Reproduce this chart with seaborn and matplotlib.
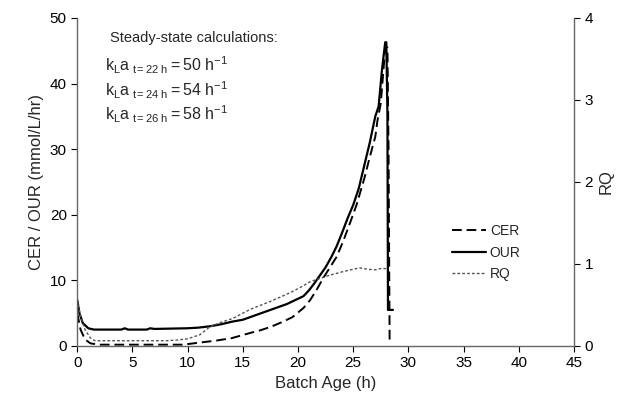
import matplotlib
matplotlib.use("Agg")
import matplotlib.pyplot as plt
import numpy as np
import pandas as pd
import seaborn as sns

# OUR (solid), mmol/L/hr
our_t = [0, 0.2, 0.5, 1.0, 1.5, 2, 4, 4.3, 4.6, 6.3, 6.6, 7, 10, 11, 12, 13, 14, 15, 16, 17,
         18, 19, 20, 20.5, 21, 21.5, 22, 22.5, 23, 23.5, 24, 24.5, 25, 25.5, 26, 26.5, 27,
         27.3, 27.6, 27.9, 28.0, 28.1, 28.15, 28.6]
our_v = [7.0, 5.0, 3.5, 2.7, 2.5, 2.5, 2.5, 2.7, 2.5, 2.5, 2.7, 2.6, 2.7, 2.8, 3.0, 3.3, 3.7,
         4.0, 4.6, 5.2, 5.8, 6.4, 7.2, 7.6, 8.5, 9.6, 10.8, 12.0, 13.5, 15.2, 17.3, 19.5, 21.5,
         24.0, 27.5, 31.0, 35.0, 36.5, 42.0, 46.3, 46.3, 35.2, 5.5, 5.5]

# CER (dashed), mmol/L/hr
cer_t = [0, 0.3, 0.7, 1.2, 2, 5, 9.6, 11, 12.5, 14, 15.7, 16.6, 17.5, 18.5, 19.5, 20.5, 21.1,
         21.7, 22.3, 22.9, 23.5, 24.1, 24.7, 25.3, 26.0, 26.5, 27.0, 27.2, 27.5, 27.9, 28.1,
         28.2, 28.3]
cer_v = [5.0, 2.5, 1.0, 0.4, 0.2, 0.2, 0.2, 0.5, 0.8, 1.2, 2.0, 2.4, 2.9, 3.6, 4.4, 5.8, 7.0,
         8.6, 10.4, 12.0, 13.6, 16.0, 18.7, 21.5, 25.5, 28.8, 31.9, 34.4, 37.0, 45.5, 45.5,
         30.0, 0.3]

# RQ (dotted), right axis
rq_t = [0, 0.3, 0.7, 1.2, 1.6, 3, 8.1, 9, 10, 11.1, 12, 13, 14.1, 15, 15.7, 16.6, 17.5, 18.6,
        19.5, 20.5, 21.1, 22, 22.9, 24, 25, 25.6, 26.3, 27.0, 27.5, 28.0]
rq_v = [0.56, 0.36, 0.20, 0.096, 0.064, 0.064, 0.064, 0.072, 0.088, 0.136, 0.232, 0.288, 0.336,
        0.40, 0.448, 0.496, 0.544, 0.608, 0.664, 0.736, 0.784, 0.824, 0.864, 0.904, 0.936,
        0.952, 0.936, 0.928, 0.944, 0.944]

x_ticks = [0, 5, 10, 15, 20, 25, 30, 35, 40, 45]
left_ticks = [0, 10, 20, 30, 40, 50]
right_ticks = [0, 1, 2, 3, 4]

kla_times = [22, 24, 26]
kla_values = [50, 54, 58]

sns.set_style("ticks")
plt.rcParams["font.family"] = ["Liberation Sans", "DejaVu Sans"]
plt.rcParams["mathtext.fontset"] = "custom"
plt.rcParams["mathtext.rm"] = "Liberation Sans"
plt.rcParams["mathtext.it"] = "Liberation Sans"

fig = plt.figure(figsize=(6.28, 4.08), dpi=100)
ax = fig.add_axes([0.123, 0.152, 0.791, 0.804])
ax2 = ax.twinx()

df_cer = pd.DataFrame({"t": cer_t, "v": cer_v})
df_our = pd.DataFrame({"t": our_t, "v": our_v})
df_rq = pd.DataFrame({"t": rq_t, "v": rq_v})

sns.lineplot(data=df_cer, x="t", y="v", ax=ax, color="black", linewidth=1.4,
             linestyle=(0, (5, 2.5)), sort=False, estimator=None, label="CER", legend=False)
sns.lineplot(data=df_our, x="t", y="v", ax=ax, color="black", linewidth=1.6,
             sort=False, estimator=None, label="OUR", legend=False)
sns.lineplot(data=df_rq, x="t", y="v", ax=ax2, color="#555555", linewidth=1.0,
             linestyle=(0, (2, 1.5)), sort=False, estimator=None, label="RQ", legend=False)

ax.set_xlim(0, 45)
ax.set_ylim(0, 50)
ax2.set_ylim(0, 4)
ax.set_xticks(x_ticks)
ax.set_yticks(left_ticks)
ax2.set_yticks(right_ticks)

ax.set_xlabel("Batch Age (h)", fontsize=12)
ax.set_ylabel("CER / OUR (mmol/L/hr)", fontsize=12)
ax2.set_ylabel("RQ", fontsize=12)

for a in (ax, ax2):
    a.tick_params(labelsize=11, length=4, width=0.8, colors="black")
    for s in a.spines.values():
        s.set_color("#666666")
        s.set_linewidth(1.0)
    a.spines["top"].set_visible(False)
ax.spines["right"].set_visible(False)
ax2.spines["left"].set_visible(False)
ax2.spines["bottom"].set_visible(False)

ax.text(0.065, 0.94, "Steady-state calculations:", transform=ax.transAxes,
        fontsize=10.5, va="center", ha="left")
for i, (tt, kv) in enumerate(zip(kla_times, kla_values)):
    ax.text(0.055, 0.855 - i * 0.075,
            r"$\mathregular{k_La_{\ t=%d\ h} = %d\ h^{-1}}$" % (tt, kv),
            transform=ax.transAxes, fontsize=11.5, va="center", ha="left")

handles = ax.get_lines()[:2] + ax2.get_lines()[:1]
ax.legend(handles, ["CER", "OUR", "RQ"], loc="upper left", bbox_to_anchor=(0.73, 0.41),
          frameon=False, fontsize=10, handlelength=2.4, handletextpad=0.3, labelspacing=0.55)

fig.savefig("out.png", dpi=100)
